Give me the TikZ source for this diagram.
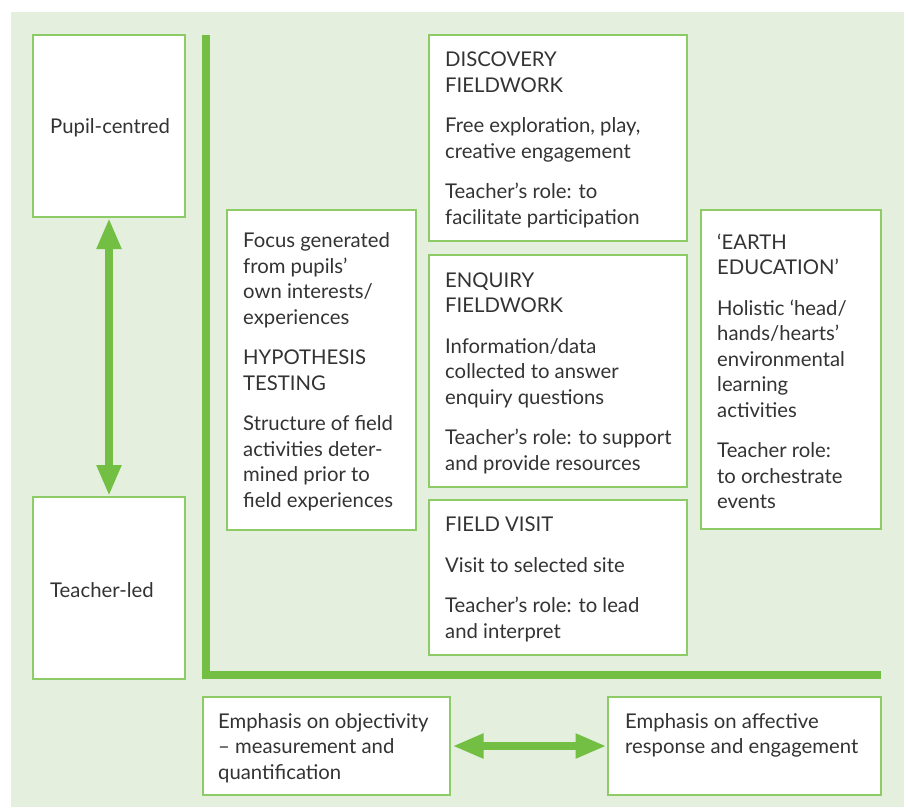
\documentclass[tikz,border=0pt]{standalone}
\usepackage{fontspec}
\setmainfont{Lato}
\usetikzlibrary{arrows.meta}
\definecolor{bgc}{RGB}{228,240,221}
\definecolor{boxline}{RGB}{140,203,102}
\definecolor{thickg}{RGB}{114,191,68}
\definecolor{txt}{RGB}{51,51,51}
\begin{document}
\begin{tikzpicture}[x=1pt,y=-1pt,
  bx/.style={draw=boxline, fill=white, line width=1.3pt, inner sep=0pt, outer sep=0pt, anchor=north west},
  tx/.style={anchor=west, align=left, inner sep=0pt, text=txt, yshift=-2pt, font=\fontsize{20.3}{25.5}\selectfont},
  dblarrow/.style={draw=thickg, line width=8.5pt,
    {Triangle[width=23pt,length=31pt]}-{Triangle[width=23pt,length=31pt]}},
  axisline/.style={draw=thickg, line width=8pt}
]
\useasboundingbox (0,0) rectangle (909,807);
\fill[bgc] (11,12) rectangle (904,807);

% axes
\coordinate (axtop) at (206,35);
\coordinate (axcorner) at (206,675);
\coordinate (axright) at (881,675);
\draw[axisline] (axtop) -- (axcorner) -- (axright);

% left boxes
\node[bx, minimum width=152pt, minimum height=182pt] (pupil) at (33,35) {};
\node[tx] (pupilT) at ([xshift=17pt]pupil.west) {Pupil-centred};
\node[bx, minimum width=152pt, minimum height=182pt] (teacher) at (33,497) {};
\node[tx] (teacherT) at ([xshift=17pt]teacher.west) {Teacher-led};
\draw[dblarrow, shorten <=1pt, shorten >=1pt] (pupil.south) -- (teacher.north);

% focus / hypothesis
\node[bx, minimum width=189pt, minimum height=320pt] (focus) at (227,210) {};
\node[tx] (focusT) at ([xshift=16pt]focus.west) {Focus generated\\ from pupils’\\ own interests/\\ experiences\\[15pt] HYPOTHESIS\\ TESTING\\[15pt] Structure of field\\ activities deter-\\ mined prior to\\ field experiences};

% discovery
\node[bx, minimum width=258pt, minimum height=206pt] (disc) at (429,35) {};
\node[tx] (discT) at ([xshift=16pt]disc.west) {DISCOVERY\\ FIELDWORK\\[15pt] Free exploration, play,\\ creative engagement\\[15pt] Teacher’s role: to\\ facilitate participation};

% enquiry
\node[bx, minimum width=258pt, minimum height=232pt] (enq) at (429,255) {};
\node[tx] (enqT) at ([xshift=16pt]enq.west) {ENQUIRY\\ FIELDWORK\\[15pt] Information/data\\ collected to answer\\ enquiry questions\\[15pt] Teacher’s role: to support\\ and provide resources};

% field visit
\node[bx, minimum width=258pt, minimum height=155pt] (field) at (429,500) {};
\node[tx] (fieldT) at ([xshift=16pt]field.west) {FIELD VISIT\\[15pt] Visit to selected site\\[15pt] Teacher’s role: to lead\\ and interpret};

% earth education
\node[bx, minimum width=180pt, minimum height=319pt] (earth) at (701,210) {};
\node[tx] (earthT) at ([xshift=16pt]earth.west) {‘EARTH\\ EDUCATION’\\[15pt] Holistic ‘head/\\ hands/hearts’\\ environmental\\ learning\\ activities\\[15pt] Teacher role:\\ to orchestrate\\ events};

% bottom boxes
\node[bx, minimum width=247pt, minimum height=98pt] (obj) at (203,697) {};
\node[tx] (objT) at ([xshift=15pt]obj.west) {Emphasis on objectivity\\ – measurement and\\ quantification};
\node[bx, minimum width=273pt, minimum height=98pt] (aff) at (608,697) {};
\node[tx] (affT) at ([xshift=17pt]aff.west) {Emphasis on affective\\ response and engagement\\ \phantom{q}};
\draw[dblarrow, shorten <=2.5pt, shorten >=1.5pt] (obj.east) -- (aff.west);
\end{tikzpicture}
\end{document}
